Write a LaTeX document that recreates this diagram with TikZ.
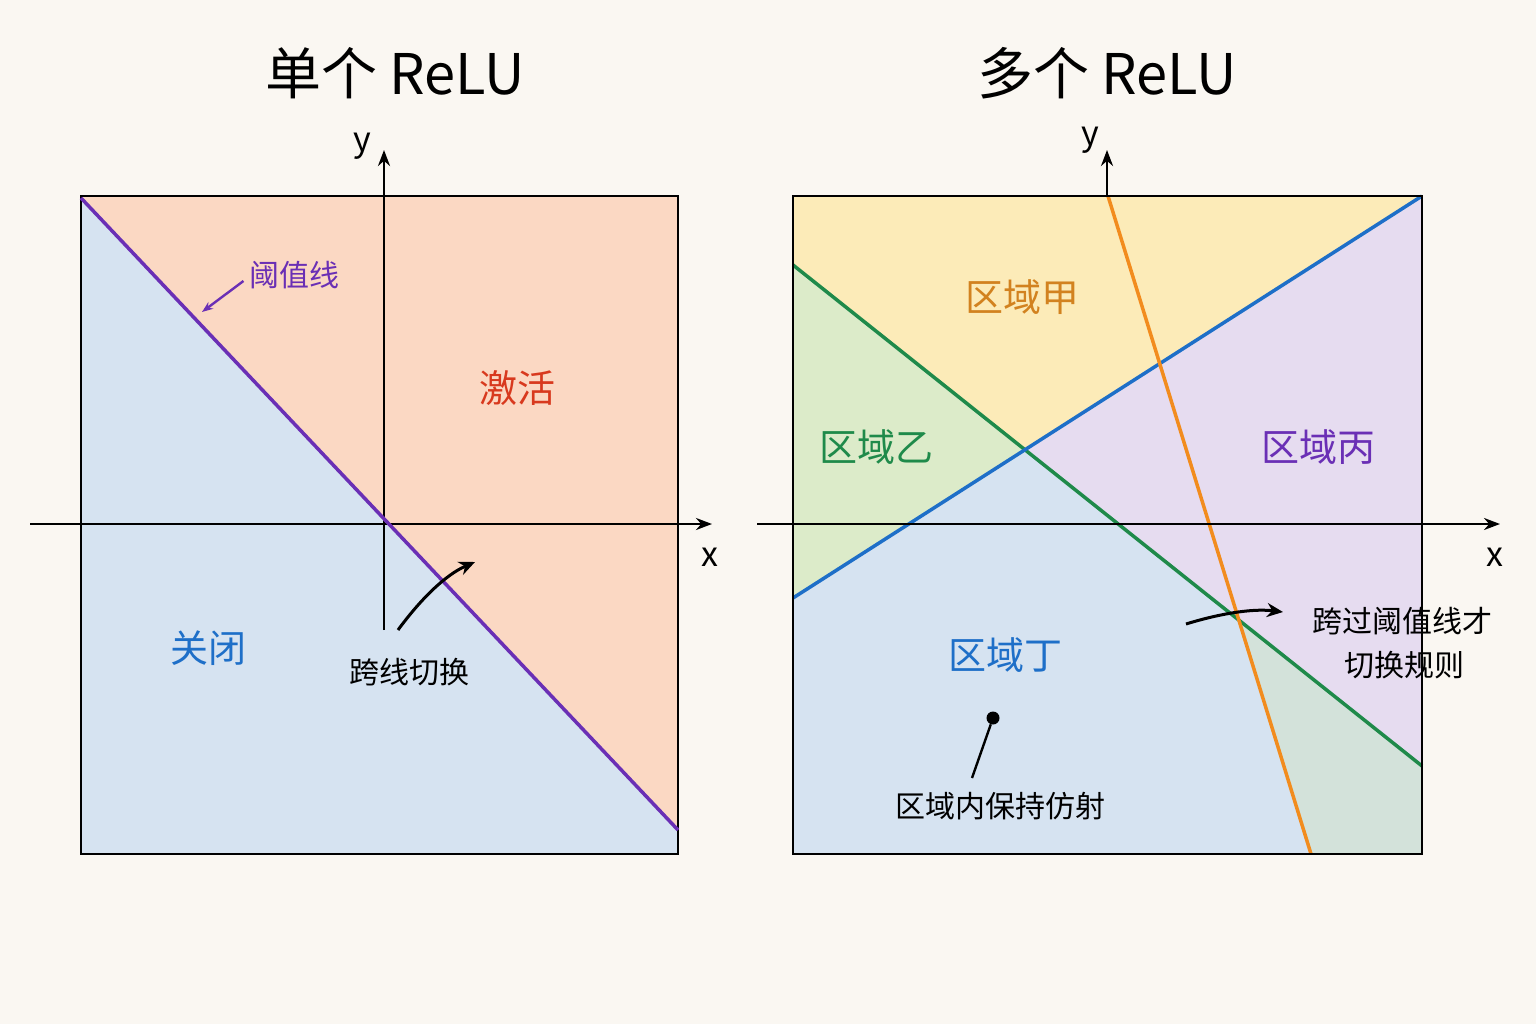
\documentclass[tikz,border=0pt]{standalone}
\usepackage{fontspec}
\setmainfont{Noto Sans CJK SC}
\usetikzlibrary{arrows.meta}
\definecolor{bg}{HTML}{FAF7F2}
\definecolor{peach}{HTML}{FBD8C3}
\definecolor{lblue}{HTML}{D6E3F1}
\definecolor{lyel}{HTML}{FCEBB8}
\definecolor{lgreen}{HTML}{DCEBC9}
\definecolor{lpurp}{HTML}{E6DCF0}
\definecolor{lgg}{HTML}{D3E2DA}
\definecolor{cpur}{HTML}{6A2FB5}
\definecolor{cgrn}{HTML}{1F8A4A}
\definecolor{cblu}{HTML}{1E6FC8}
\definecolor{corg}{HTML}{F28C1E}
\definecolor{cred}{HTML}{D8391E}
\definecolor{cbrn}{HTML}{D2821F}
\begin{document}
\begin{tikzpicture}[x=1pt,y=-1pt,
  lab/.style={font=\fontsize{38}{44}\selectfont},
  sm/.style={font=\fontsize{30}{44}\selectfont},
  ttl/.style={font=\fontsize{56}{64}\selectfont},
  ax/.style={line width=2.6pt,-{Stealth[length=16pt,width=12pt]}},
  ar/.style={line width=3pt,-{Stealth[length=16pt,width=14pt]}},
  ax label/.style={font=\itshape\fontsize{34}{38}\selectfont}]
\useasboundingbox[fill=bg] (0,0) rectangle (1536,1024);
% ---- left
\fill[lblue] (81,196) rectangle (678,854);
\fill[peach] (81,198) -- (81,196) -- (678,196) -- (678,830) -- cycle;
\draw[line width=2.6pt] (81,196) rectangle (678,854);
\draw[ax] (30,524) -- (712,524);
\draw[ax] (384,630) -- (384,150);
\node[ax label] (lx) at (710,557) {x};
\node[ax label] (ly) at (362,146) {y};
\draw[cpur,line width=3.5pt] (81,198) -- (678,830);
\node[text=cpur,sm] (thr) at (294,275) {阈值线};
\coordinate (thrT) at (202,312);
\draw[cpur,line width=2.4pt,-{Stealth[length=11pt]}] (thr.west) ++(-2,6) -- (thrT);
\node[lab,text=cred] (act) at (517,388) {激活};
\node[lab,text=cblu] (off) at (208,648) {关闭};
\node[sm] (cross) at (409,672) {跨线切换};
\coordinate (crossT) at (475,562);
\draw[ar] (398,630) .. controls (420,600) and (445,575) .. (crossT);
\node[ttl] (t1) at (395,73) {单个 ReLU};
% ---- right
\fill[lblue] (793,196) rectangle (1422,854);
\fill[lyel] (793,196) -- (1422,196) -- (1025,450) -- (793,265) -- cycle;
\fill[lgreen] (793,265) -- (1025,450) -- (793,598) -- cycle;
\fill[lpurp] (1422,196) -- (1422,766) -- (1025,450) -- cycle;
\fill[lgg] (1239,620) -- (1422,766) -- (1422,854) -- (1311,854) -- cycle;
\draw[cgrn,line width=3.5pt] (793,265) -- (1422,766);
\draw[cblu,line width=3.5pt] (793,598) -- (1422,196);
\draw[corg,line width=3.5pt] (1108,196) -- (1311,854);
\draw[line width=2.6pt] (793,196) rectangle (1422,854);
\draw[ax] (757,524) -- (1500,524);
\draw[ax] (1107,196) -- (1107,150);
\node[ax label] (rx) at (1495,557) {x};
\node[ax label] (ry) at (1090,140) {y};
\node[lab,text=cbrn] (ra) at (1022,297) {区域甲};
\node[lab,text=cgrn] (rb) at (876,447) {区域乙};
\node[lab,text=cpur] (rc) at (1318,447) {区域丙};
\node[lab,text=cblu] (rd) at (1005,655) {区域丁};
\node[sm] (aff) at (1000,806) {区域内保持仿射};
\node[circle,fill=black,inner sep=0pt,minimum size=13pt] (dot) at (993,718) {};
\draw[line width=2.4pt] (dot) -- (972,778);
\node[sm,align=center] (rule) at (1402,643) {跨过阈值线才\\\hspace*{4pt}切换规则};
\coordinate (ruleT) at (1283,612);
\draw[ar] (1186,624) .. controls (1215,615) and (1250,608) .. (ruleT);
\node[ttl] (t2) at (1107,73) {多个 ReLU};
\end{tikzpicture}
\end{document}
